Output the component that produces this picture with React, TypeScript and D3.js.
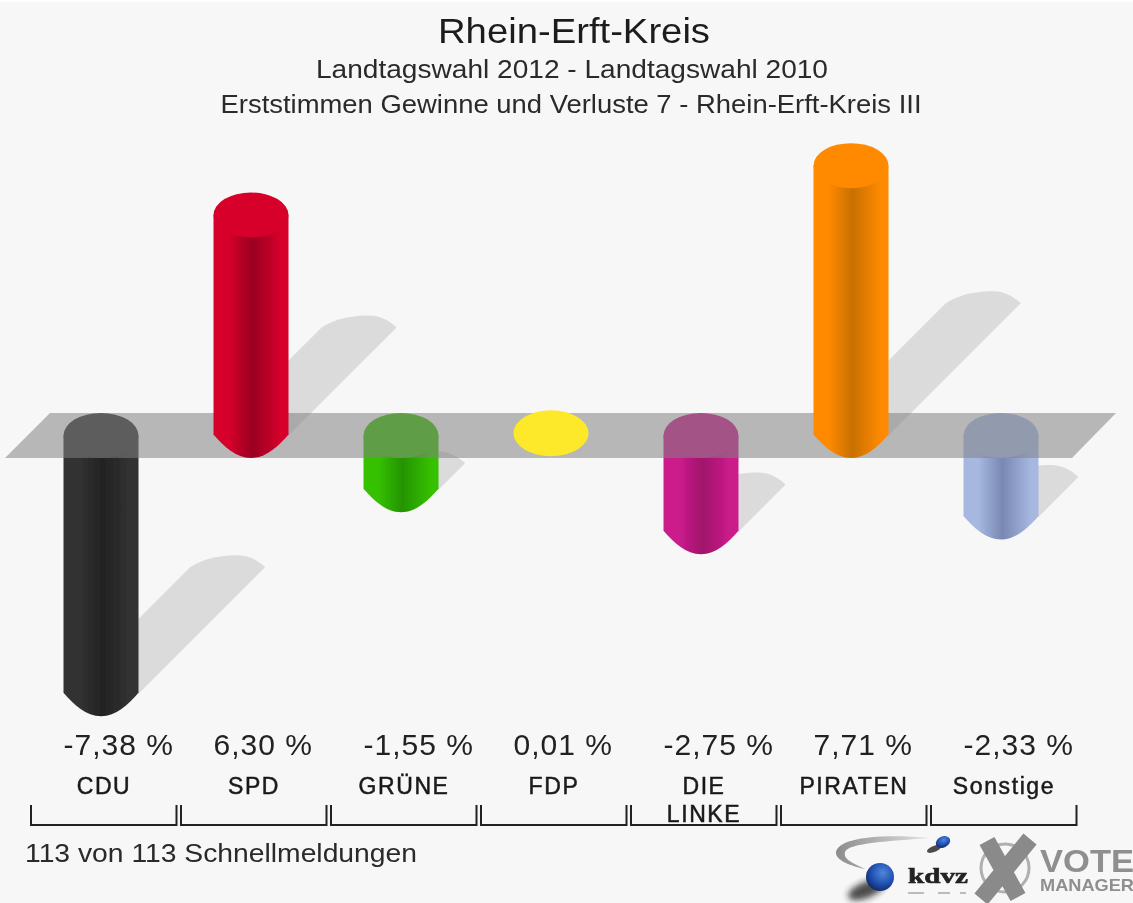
import * as d3 from "d3";

const categories = ["CDU", "SPD", "GRÜNE", "FDP", "DIE LINKE", "PIRATEN", "Sonstige"];
const seriesValues = [-7.38, 6.3, -1.55, 0.01, -2.75, 7.71, -2.33];
const valueLabels = ["-7,38 %", "6,30 %", "-1,55 %", "0,01 %", "-2,75 %", "7,71 %", "-2,33 %"];
const lightColors = ["#323232", "#d6002b", "#35c000", "#fde82a", "#cc1c8c", "#ff8a00", "#a6b7e0"];
const darkColors = ["#232323", "#9a0022", "#249400", "#fde82a", "#a0126b", "#c87000", "#7888b2"];

const WIDTH = 1133;
const HEIGHT = 903;
const RX = 37.5;
const RY = 22.5;
const ZERO = 435.5;
const FONT = "'Liberation Sans', Arial, sans-serif";

// 35px per percent point
const y = d3.scaleLinear().domain([0, 1]).range([ZERO, ZERO - 35]);
const x = d3.scalePoint<number>().domain(d3.range(7)).range([101, 1001]);
const bracket = d3.scalePoint<number>().domain(d3.range(8)).range([31, 1081]);

const body = (cx: number, top: number, bottom: number) => {
  const p = d3.path();
  p.moveTo(cx - RX, top);
  p.lineTo(cx + RX, top);
  p.lineTo(cx + RX, bottom - 1);
  p.bezierCurveTo(cx + 27, bottom + 11, cx + 15, bottom + RY, cx, bottom + RY);
  p.bezierCurveTo(cx - 15, bottom + RY, cx - 27, bottom + 11, cx - RX, bottom - 1);
  p.closePath();
  return p.toString();
};

const shadow = (cx: number, v: number) => {
  const start = y(Math.min(v, 0));
  const h = Math.abs(y(v) - ZERO) * 0.49;
  const ex = cx + h;
  const ey = start - h;
  const p = d3.path();
  p.moveTo(cx - RX, start);
  p.lineTo(ex - RX, ey);
  p.bezierCurveTo(ex - 22, ey - 10, ex - 5, ey - 12, ex + 10, ey - 12);
  p.bezierCurveTo(ex + 22, ey - 12, ex + 31, ey - 6, ex + RX, ey);
  p.lineTo(cx + RX, start);
  p.closePath();
  return p.toString();
};

const Cylinder = ({ i }: { i: number }) => {
  const v = seriesValues[i];
  const cx = x(i)!;
  if (Math.abs(v) < 0.1) {
    return <ellipse cx={cx} cy={y(v) - 2} rx={RX} ry={RY + 0.5} fill={lightColors[i]} />;
  }
  const top = y(Math.max(v, 0));
  const bottom = y(Math.min(v, 0));
  return (
    <g>
      <path d={body(cx, top, bottom)} fill={`url(#grad${i})`} />
      <ellipse cx={cx} cy={top} rx={RX} ry={RY} fill={lightColors[i]} />
    </g>
  );
};

const Logos = () => (
  <g filter="url(#logoBlur)">
    <path
      d="M930 838 C880 833 836 838 836 853 C836 860 850 866 865 869 C850 862 843 858 845 852 C848 843 890 841 930 838 Z"
      fill="url(#swoosh)"
    />
    <ellipse cx={866} cy={890} rx={19} ry={8} fill="#222" opacity={0.8} transform="rotate(-22 866 890)" filter="url(#soft)" />
    <circle cx={880} cy={877} r={14} fill="url(#sphere)" />
    <ellipse cx={934} cy={849} rx={7.5} ry={3} fill="#222" opacity={0.8} transform="rotate(-22 934 849)" />
    <ellipse cx={943} cy={842} rx={7.5} ry={5.5} fill="url(#sphere)" transform="rotate(-25 943 842)" />
    <text x={908} y={883} fontFamily="'Liberation Serif', serif" fontWeight="bold" fontSize={22} fill="#222" textLength={60} lengthAdjust="spacingAndGlyphs" stroke="#222" strokeWidth={0.6}>
      kdvz
    </text>
    <path d="M908 893 H924 M938 893 H950 M960 893 H966" stroke="#bbb" strokeWidth={2} fill="none" />
    <circle cx={1005} cy={868} r={24} fill="none" stroke="#b0b0b0" strokeWidth={3} />
    <path d="M987 841 L1018 897 M1030 839 L981 899" stroke="#8a8a8a" strokeWidth={17} fill="none" />
    <text x={1040} y={872} fontFamily={FONT} fontWeight="bold" fontSize={32} fill="#8f8f8f" textLength={94} lengthAdjust="spacingAndGlyphs">
      VOTE
    </text>
    <text x={1040} y={891} fontFamily={FONT} fontWeight="bold" fontSize={17} fill="#8f8f8f" textLength={94} lengthAdjust="spacingAndGlyphs">
      MANAGER
    </text>
  </g>
);

export default function App() {
  const order = d3.range(7);
  const labelCenter = (i: number) => (bracket(i)! + bracket(i + 1)! - 4) / 2;
  return (
    <svg width={WIDTH} height={HEIGHT} style={{ position: "absolute", left: 0, top: 0 }}>
      <defs>
        {order.map((i) => (
          <linearGradient key={i} id={`grad${i}`} x1="0" x2="1" y1="0" y2="0">
            <stop offset="0" stopColor={lightColors[i]} />
            <stop offset="0.2" stopColor={lightColors[i]} />
            <stop offset="0.52" stopColor={darkColors[i]} />
            <stop offset="0.9" stopColor={lightColors[i]} />
            <stop offset="1" stopColor={lightColors[i]} />
          </linearGradient>
        ))}
        <linearGradient id="swoosh" x1="0" x2="1" y1="0" y2="0">
          <stop offset="0" stopColor="#8c8c8c" />
          <stop offset="1" stopColor="#e4e4e4" />
        </linearGradient>
        <radialGradient id="sphere" cx="0.6" cy="0.35" r="0.7">
          <stop offset="0" stopColor="#4f86dc" />
          <stop offset="0.6" stopColor="#1f4fb0" />
          <stop offset="1" stopColor="#10275e" />
        </radialGradient>
        <filter id="soft" x="-20%" y="-50%" width="140%" height="200%">
          <feGaussianBlur stdDeviation="3" />
        </filter>
        <filter id="logoBlur" x="-5%" y="-5%" width="110%" height="110%">
          <feGaussianBlur stdDeviation="0.7" />
        </filter>
        <filter id="upscaled" x="0" y="0" width="100%" height="100%">
          <feGaussianBlur stdDeviation="0.7" />
        </filter>
      </defs>
      <rect width={WIDTH} height={HEIGHT} fill="#ffffff" />
      <g filter="url(#upscaled)">
        <rect y={2} width={WIDTH} height={HEIGHT} fill="#f7f7f7" />

        <g fontFamily={FONT} textAnchor="middle" fill="#1c1c1c">
          <text x={574} y={43} fontSize={35} textLength={272} lengthAdjust="spacingAndGlyphs">Rhein-Erft-Kreis</text>
          <text x={572} y={78} fontSize={26} fill="#2a2a2a" textLength={512} lengthAdjust="spacingAndGlyphs">Landtagswahl 2012 - Landtagswahl 2010</text>
          <text x={571} y={113} fontSize={25} fill="#2a2a2a" textLength={701} lengthAdjust="spacingAndGlyphs">Erststimmen Gewinne und Verluste 7 - Rhein-Erft-Kreis III</text>
        </g>

        {order.map((i) => (
          <path key={i} d={shadow(x(i)!, seriesValues[i])} fill="#000" opacity={Math.abs(seriesValues[i]) < 0.1 ? 0 : 0.11} />
        ))}
        {order.filter((i) => seriesValues[i] < 0).map((i) => <Cylinder key={i} i={i} />)}
        <path d="M50 413 L1116 413 L1072 458 L5 458 Z" fill="#828282" opacity={0.54} />
        {order.filter((i) => seriesValues[i] >= 0).map((i) => <Cylinder key={i} i={i} />)}

        <g fontFamily={FONT} fill="#222">
          {valueLabels.map((d, i) => (
            <text key={d} x={x(i)! - RX} y={755} fontSize={30} letterSpacing={1}>{d}</text>
          ))}
        </g>
        <g fontFamily={FONT} fill="#1a1a1a" textAnchor="middle" fontSize={23} letterSpacing={1.6} stroke="#1a1a1a" strokeWidth={0.5}>
          {categories.map((d, i) => {
            const lines = d === "DIE LINKE" ? d.split(" ") : [d];
            return lines.map((line, j) => (
              <text key={line} x={labelCenter(i)} y={794 + j * 28}>{line}</text>
            ));
          })}
        </g>
        <g fill="none" stroke="#222" strokeWidth={2}>
          {order.map((i) => {
            const x0 = bracket(i)!;
            const x1 = bracket(i + 1)! - 4.5;
            return <path key={i} d={`M${x0} 805 V825 H${x1} V805`} />;
          })}
        </g>
        <text x={25} y={862} fontFamily={FONT} fontSize={26} fill="#2a2a2a" textLength={392} lengthAdjust="spacingAndGlyphs">
          113 von 113 Schnellmeldungen
        </text>
        <Logos />
      </g>
    </svg>
  );
}
